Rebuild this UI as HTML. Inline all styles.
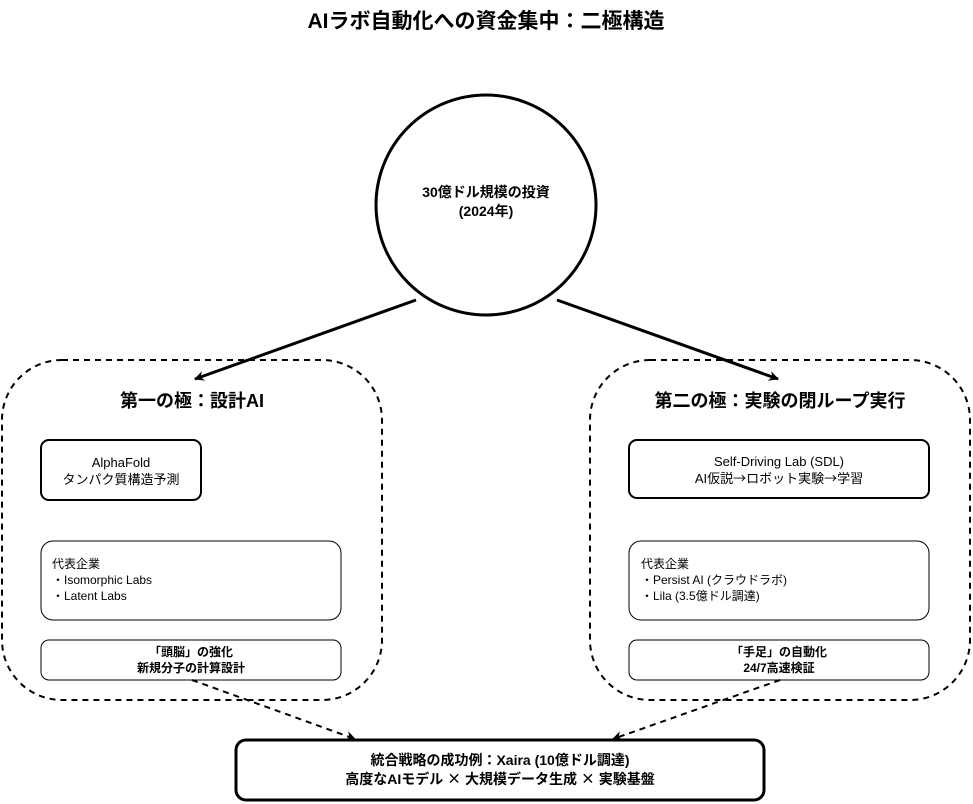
<!DOCTYPE html>
<html><head><meta charset="utf-8"><style>
html,body{margin:0;padding:0;background:#fff;}
svg{display:block;font-family:"Liberation Sans","Noto Sans CJK JP",sans-serif;}
.cjk{font-family:"Noto Sans CJK JP",sans-serif;}
</style></head><body>
<svg width="973" height="804" viewBox="0 0 973 804" xmlns="http://www.w3.org/2000/svg">
<defs>
<marker id="ah" markerWidth="10" markerHeight="10" refX="9" refY="5" orient="auto" markerUnits="userSpaceOnUse">
<path d="M0,0 L10,5 L0,10 L3,5 z" fill="#000"/></marker>
</defs>
<text x="486" y="28" text-anchor="middle" font-size="21" font-weight="bold">AIラボ自動化への資金集中：二極構造</text>

<circle cx="486" cy="205" r="110" fill="#fff" stroke="#000" stroke-width="3"/>
<text x="486" y="197" text-anchor="middle" font-size="14" font-weight="bold">30億ドル規模の投資</text>
<text x="486" y="216" text-anchor="middle" font-size="14" font-weight="bold">(2024年)</text>

<line x1="416" y1="300" x2="195" y2="379" stroke="#000" stroke-width="3" marker-end="url(#ah)"/>
<line x1="557" y1="300" x2="778" y2="379" stroke="#000" stroke-width="3" marker-end="url(#ah)"/>

<rect x="2" y="360" width="380" height="340" rx="60" fill="none" stroke="#000" stroke-width="2" stroke-dasharray="6,5"/>
<rect x="590" y="360" width="380" height="340" rx="60" fill="none" stroke="#000" stroke-width="2" stroke-dasharray="6,5"/>

<text x="192" y="407" text-anchor="middle" font-size="18" font-weight="bold">第一の極：設計AI</text>
<text x="780" y="407" text-anchor="middle" font-size="18" font-weight="bold">第二の極：実験の閉ループ実行</text>

<rect x="41" y="440" width="160" height="60" rx="8" fill="#fff" stroke="#000" stroke-width="2"/>
<text x="121" y="467" text-anchor="middle" font-size="13">AlphaFold</text>
<text x="121" y="484" text-anchor="middle" font-size="13">タンパク質構造予測</text>

<rect x="41" y="541" width="300" height="79" rx="12" fill="#fff" stroke="#000" stroke-width="1"/>
<text x="52" y="568" font-size="12">代表企業</text>
<text x="52" y="584" font-size="12">・Isomorphic Labs</text>
<text x="52" y="600" font-size="12">・Latent Labs</text>

<rect x="41" y="640" width="300" height="40" rx="8" fill="#fff" stroke="#000" stroke-width="1"/>
<text x="191" y="656" text-anchor="middle" font-size="12" font-weight="bold">「頭脳」の強化</text>
<text x="191" y="672" text-anchor="middle" font-size="12" font-weight="bold">新規分子の計算設計</text>

<rect x="629" y="440" width="300" height="58" rx="8" fill="#fff" stroke="#000" stroke-width="2"/>
<text x="779" y="466" text-anchor="middle" font-size="13">Self-Driving Lab (SDL)</text>
<text x="779" y="483" text-anchor="middle" font-size="13">AI仮説<tspan class="cjk">→</tspan>ロボット実験<tspan class="cjk">→</tspan>学習</text>

<rect x="629" y="541" width="300" height="79" rx="12" fill="#fff" stroke="#000" stroke-width="1"/>
<text x="641" y="568" font-size="12">代表企業</text>
<text x="641" y="584" font-size="12">・Persist AI (クラウドラボ)</text>
<text x="641" y="600" font-size="12">・Lila (3.5億ドル調達)</text>

<rect x="629" y="640" width="300" height="40" rx="8" fill="#fff" stroke="#000" stroke-width="1"/>
<text x="779" y="656" text-anchor="middle" font-size="12" font-weight="bold">「手足」の自動化</text>
<text x="779" y="672" text-anchor="middle" font-size="12" font-weight="bold">24/7高速検証</text>

<line x1="192" y1="680" x2="355" y2="739" stroke="#000" stroke-width="2" stroke-dasharray="6,5" marker-end="url(#ah)"/>
<line x1="780" y1="680" x2="613" y2="739" stroke="#000" stroke-width="2" stroke-dasharray="6,5" marker-end="url(#ah)"/>

<rect x="236" y="740" width="528" height="60" rx="10" fill="#fff" stroke="#000" stroke-width="3"/>
<text x="500" y="765" text-anchor="middle" font-size="14" font-weight="bold">統合戦略の成功例：Xaira (10億ドル調達)</text>
<text x="500" y="784" text-anchor="middle" font-size="14" font-weight="bold">高度なAIモデル <tspan class="cjk">×</tspan> 大規模データ生成 <tspan class="cjk">×</tspan> 実験基盤</text>
</svg>
</body></html>
